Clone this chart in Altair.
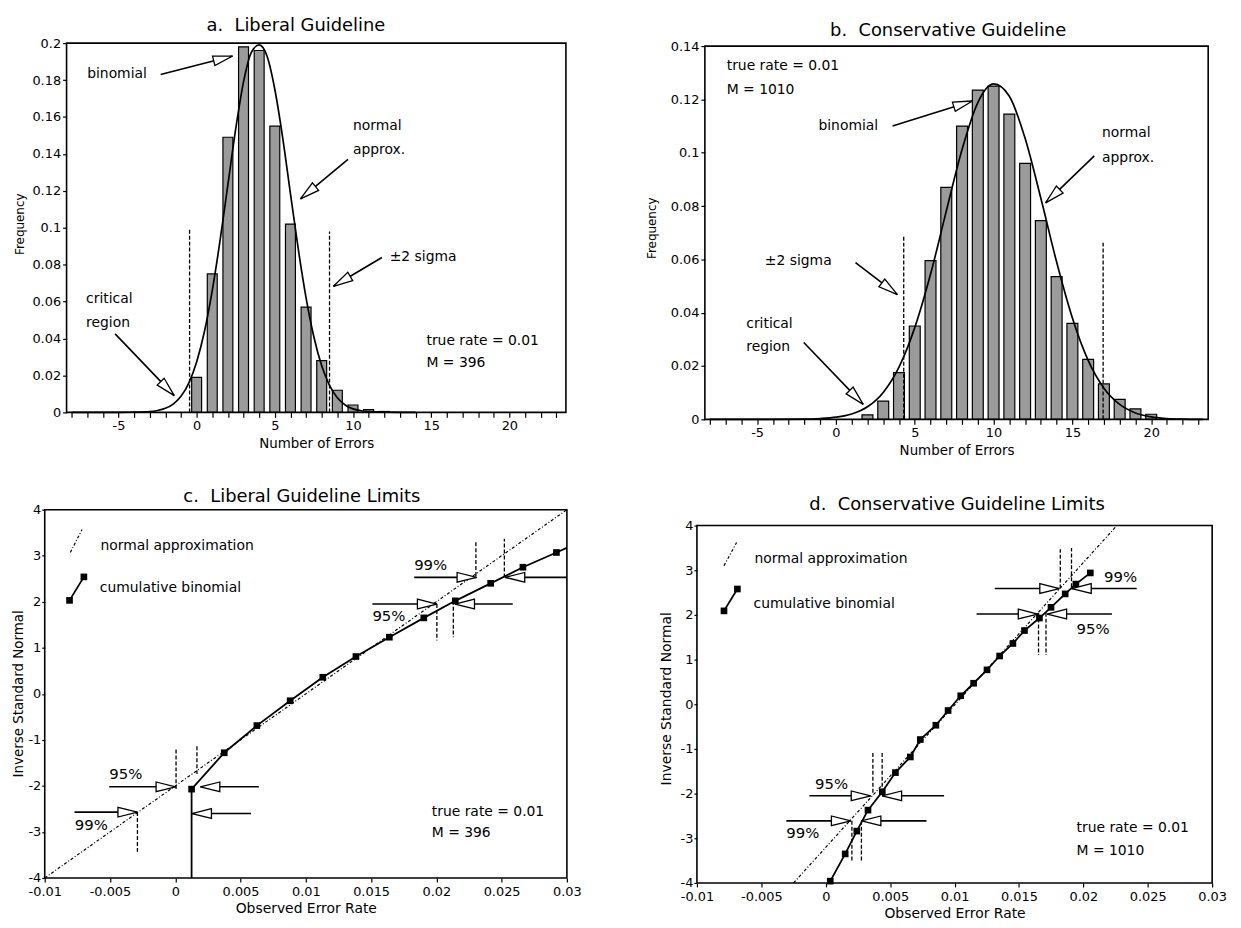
import math
import altair as alt
import pandas as pd

FONT = "DejaVu Sans"
HEAD = "M0,0L-2.8,-0.7L-2.8,0.7Z"

# ---------------- Panel a: Liberal Guideline ----------------
A_TITLE = "a.\u00a0 Liberal Guideline"
A_XDOM = [-8, 23.3]
A_YDOM = [0, 0.2]
A_XTICKS = list(range(-8, 24))
A_YTICKS = [0, 0.02, 0.04, 0.06, 0.08, 0.1, 0.12, 0.14, 0.16, 0.18, 0.2]
A_BAR_K = [0, 1, 2, 3, 4, 5, 6, 7, 8, 9, 10, 11, 12]
A_BAR_F = [0.019, 0.075, 0.149, 0.198, 0.196, 0.155, 0.102, 0.057, 0.028, 0.012, 0.004, 0.0015, 0.0005]
A_CURVE_X = [-8, -6, -5, -4, -3, -2.5, -2, -1.5, -1, -0.5, 0, 0.5, 1, 1.5, 2, 2.5, 3, 3.5, 4, 4.5,
             5, 5.5, 6, 6.5, 7, 7.5, 8, 8.5, 9, 9.5, 10, 10.5, 11, 12, 14]
A_CURVE_Y = [0, 0, 0.00003, 0.0001, 0.0004, 0.001, 0.0022, 0.0045, 0.0087, 0.0159, 0.0273, 0.0438,
             0.066, 0.0931, 0.1234, 0.1535, 0.179, 0.195, 0.199, 0.193, 0.175, 0.149, 0.1185, 0.0885,
             0.062, 0.0408, 0.0252, 0.0146, 0.0079, 0.004, 0.0019, 0.0009, 0.0004, 0.0001, 0]
A_SIGMA_X = [-0.45, 8.5]
A_SIGMA_TOP = [0.1, 0.098]
A_ARROW_X1 = [-2.3, 9.68, -5.21, 11.85]
A_ARROW_Y1 = [0.183, 0.137, 0.0425, 0.0839]
A_ARROW_X2 = [2.3, 6.64, -1.43, 8.75]
A_ARROW_Y2 = [0.193, 0.1156, 0.0091, 0.0683]
A_TEXT_X = [-7.0, 10.0, 10.0, -7.07, -7.07, 12.35, 14.7, 14.7]
A_TEXT_Y = [0.183, 0.155, 0.142, 0.0613, 0.0484, 0.0844, 0.0387, 0.0269]
A_TEXT = ["binomial", "normal", "approx.", "critical", "region", "\u00b12 sigma", "true rate = 0.01", "M = 396"]

# ---------------- Panel b: Conservative Guideline ----------------
B_TITLE = "b.\u00a0 Conservative Guideline"
B_XDOM = [-8, 23.3]
B_YDOM = [0, 0.14]
B_XTICKS = list(range(-8, 24))
B_YTICKS = [0, 0.02, 0.04, 0.06, 0.08, 0.1, 0.12, 0.14]
B_BAR_K = [2, 3, 4, 5, 6, 7, 8, 9, 10, 11, 12, 13, 14, 15, 16, 17, 18, 19, 20]
B_BAR_F = [0.0017, 0.0068, 0.0175, 0.035, 0.0595, 0.087, 0.110, 0.1235, 0.125, 0.1145, 0.096,
           0.0745, 0.0535, 0.036, 0.0225, 0.0133, 0.0075, 0.0039, 0.0019]
B_CURVE_X = [-8, -4, -2, -1, 0, 1, 2, 3, 4, 5, 6, 7, 8, 9, 10, 11, 12, 13, 14, 15, 16, 17, 18, 19,
             20, 21, 22, 23.3]
B_CURVE_Y = [0, 0.00001, 0.00007, 0.0003, 0.0008, 0.002, 0.0047, 0.0101, 0.0196, 0.0344, 0.0544,
             0.0781, 0.1012, 0.1188, 0.1258, 0.1212, 0.1054, 0.0829, 0.059, 0.038, 0.0221, 0.0117,
             0.0056, 0.0024, 0.0009, 0.0003, 0.0001, 0]
B_SIGMA_X = [4.3, 16.95]
B_SIGMA_TOP = [0.069, 0.067]
B_ARROW_X1 = [3.59, 16.39, 1.24, -2.04]
B_ARROW_Y1 = [0.110, 0.0988, 0.0588, 0.0288]
B_ARROW_X2 = [8.66, 13.3, 3.9, 1.73]
B_ARROW_Y2 = [0.1194, 0.0812, 0.0468, 0.0056]
B_TEXT_X = [-6.93, -6.93, -1.11, 16.88, 16.88, -4.51, -5.69, -5.69]
B_TEXT_Y = [0.1325, 0.1235, 0.110, 0.1074, 0.0981, 0.0595, 0.0356, 0.027]
B_TEXT = ["true rate = 0.01", "M = 1010", "binomial", "normal", "approx.", "\u00b12 sigma", "critical", "region"]

# ---------------- Panel c: Liberal Guideline Limits ----------------
C_TITLE = "c.\u00a0 Liberal Guideline Limits"
C_XDOM = [-0.01, 0.03]
C_YDOM = [-4, 4]
C_XTICKS = [-0.01, -0.005, 0, 0.005, 0.01, 0.015, 0.02, 0.025, 0.03]
C_YTICKS = [-4, -3, -2, -1, 0, 1, 2, 3, 4]
C_NORM_X = [-0.01, 0.03]
C_NORM_Y = [-4, 4]
C_LINE_X = [0.00125, 0.00125, 0.00375, 0.00625, 0.0088, 0.0113, 0.01384, 0.0164, 0.01904, 0.02145,
            0.02416, 0.02663, 0.0292, 0.0316]
C_LINE_Y = [-4, -2.07, -1.28, -0.69, -0.15, 0.36, 0.81, 1.23, 1.65, 2.02, 2.40, 2.75, 3.07, 3.37]
C_SQ_X = [0.00125, 0.00375, 0.00625, 0.0088, 0.0113, 0.01384, 0.0164, 0.01904, 0.02145, 0.02416,
          0.02663, 0.0292]
C_SQ_Y = [-2.07, -1.28, -0.69, -0.15, 0.36, 0.81, 1.23, 1.65, 2.02, 2.40, 2.75, 3.07]
C_DASH_X = [0.02303, 0.02521, 0.02004, 0.0213, 0.00006, 0.00166, -0.0029]
C_DASH_Y1 = [2.56, 2.53, 1.95, 2.02, -1.21, -1.14, -2.57]
C_DASH_Y2 = [3.32, 3.37, 1.16, 1.23, -2.07, -1.75, -3.47]
C_ARROW_X1 = [0.0183, 0.03, 0.0151, 0.02585, -0.00506, 0.0064, -0.00772, 0.0058]
C_ARROW_Y1 = [2.53, 2.53, 1.95, 1.95, -2.02, -2.02, -2.57, -2.6]
C_ARROW_X2 = [0.02308, 0.02528, 0.02004, 0.02143, 0.00002, 0.00192, -0.0029, 0.00128]
C_ARROW_Y2 = [2.53, 2.53, 1.95, 1.95, -2.02, -2.02, -2.57, -2.6]
C_PCT_X = [0.0183, 0.0151, -0.00506, -0.0077]
C_PCT_Y = [2.80, 1.69, -1.75, -2.84]
C_PCT = ["99%", "95%", "95%", "99%"]
C_TEXT_X = [-0.00573, -0.00578, 0.01965, 0.01965]
C_TEXT_Y = [3.21, 2.29, -2.56, -3.02]
C_TEXT = ["normal approximation", "cumulative binomial", "true rate = 0.01", "M = 396"]
C_LEG_NORM_X = [-0.00804, -0.00714]
C_LEG_NORM_Y = [3.07, 3.57]
C_LEG_BIN_X = [-0.0081, -0.007]
C_LEG_BIN_Y = [2.03, 2.54]

# ---------------- Panel d: Conservative Guideline Limits ----------------
D_TITLE = "d.\u00a0 Conservative Guideline Limits"
D_XDOM = [-0.01, 0.03]
D_YDOM = [-4, 4]
D_XTICKS = [-0.01, -0.005, 0, 0.005, 0.01, 0.015, 0.02, 0.025, 0.03]
D_YTICKS = [-4, -3, -2, -1, 0, 1, 2, 3, 4]
D_NORM_X = [-0.0025, 0.0226]
D_NORM_Y = [-4, 4]
D_SQ_X = [0.00035, 0.00151, 0.00241, 0.00328, 0.00439, 0.00541, 0.00657, 0.00734, 0.00855, 0.0095,
          0.01048, 0.01148, 0.01252, 0.0135, 0.01453, 0.01543, 0.01659, 0.01749, 0.01859, 0.01942,
          0.02054]
D_SQ_Y = [-3.96, -3.35, -2.84, -2.37, -1.96, -1.53, -1.18, -0.79, -0.47, -0.14, 0.19, 0.47, 0.77,
          1.08, 1.36, 1.65, 1.93, 2.17, 2.47, 2.69, 2.94]
D_DASH_X = [0.01821, 0.01908, 0.01652, 0.0171, 0.00366, 0.00438, 0.00203, 0.00277]
D_DASH_Y1 = [2.59, 2.62, 2.05, 2.05, -1.09, -1.09, -2.61, -2.61]
D_DASH_Y2 = [3.47, 3.5, 1.1, 1.1, -2.02, -2.02, -3.53, -3.53]
D_ARROW_X1 = [0.01312, 0.02414, 0.01171, 0.02222, -0.00127, 0.00919, -0.00306, 0.00782]
D_ARROW_Y1 = [2.59, 2.59, 2.02, 2.02, -2.05, -2.05, -2.61, -2.61]
D_ARROW_X2 = [0.01813, 0.0191, 0.01646, 0.01719, 0.00349, 0.00438, 0.00195, 0.00277]
D_ARROW_Y2 = [2.59, 2.59, 2.02, 2.02, -2.05, -2.05, -2.61, -2.61]
D_PCT_X = [0.0216, 0.01947, -0.00083, -0.00306]
D_PCT_Y = [2.84, 1.69, -1.79, -2.89]
D_PCT = ["99%", "95%", "95%", "99%"]
D_TEXT_X = [-0.00554, -0.0056, 0.01947, 0.01947]
D_TEXT_Y = [3.25, 2.25, -2.78, -3.28]
D_TEXT = ["normal approximation", "cumulative binomial", "true rate = 0.01", "M = 1010"]
D_LEG_NORM_X = [-0.0079, -0.00692]
D_LEG_NORM_Y = [3.10, 3.62]
D_LEG_BIN_X = [-0.0079, -0.00686]
D_LEG_BIN_Y = [2.09, 2.58]


# ---------------- layout (pixels, relative to each panel's group origin) ----------------
# gw, gh: group size; plot: (left, top, right, bottom) of the plot frame; box: layout extent
GEOM = {
    "a": dict(gw=503, gh=372, plot=(0, 0, 503, 372), box=(-59, -32, 504, 422),
              title=(231, -12), ytitle=(-40, 182), yoff=0, ytfs=12),
    "b": dict(gw=507, gh=379, plot=(0, 3, 507, 379), box=(-60, -32, 508, 422),
              title=(245, -7), ytitle=(-47, 186), yoff=0, ytfs=12),
    "c": dict(gw=504, gh=371, plot=(-22, 0, 504, 371), box=(-59, -28, 519, 412),
              title=(237, -8), ytitle=(-19, 185), yoff=22, ytfs=13.5),
    "d": dict(gw=519, gh=376, plot=(0, 16, 519, 376), box=(-42, -28, 540, 412),
              title=(262, 0), ytitle=(-24, 190), yoff=0, ytfs=14),
}


def make_enc(g, xdom, ydom, xaxis, yaxis):
    l, t, r, b = g["plot"]
    xs = alt.Scale(domain=xdom, range=[l, r], nice=False, zero=False)
    ys = alt.Scale(domain=ydom, range=[b, t], nice=False, zero=False)

    def X(f):
        return alt.X(f, type="quantitative", scale=xs, axis=xaxis)

    def Y(f):
        return alt.Y(f, type="quantitative", scale=ys, axis=yaxis)
    return X, Y


def one_row():
    return pd.DataFrame({"v": [0]})


def bounds_box(box):
    x1, y1, x2, y2 = box
    return alt.Chart(one_row()).mark_rule(color="white", strokeOpacity=0).encode(
        x=alt.value(x1), x2=alt.value(x2), y=alt.value(y1), y2=alt.value(y2))


def frame(plot):
    x1, y1, x2, y2 = plot
    return alt.Chart(one_row()).mark_rect(filled=False, stroke="black", strokeWidth=1.6).encode(
        x=alt.value(x1), x2=alt.value(x2), y=alt.value(y1), y2=alt.value(y2))


def title_mark(text, xy):
    return alt.Chart(pd.DataFrame({"t": [text]})).mark_text(
        align="center", baseline="alphabetic", font=FONT, fontSize=18, color="black").encode(
        x=alt.value(xy[0]), y=alt.value(xy[1]), text="t:N")


def text_layer(xv, yv, labels, X, Y, size=14):
    df = pd.DataFrame({"x": xv, "y": yv, "t": labels})
    return alt.Chart(df).mark_text(align="left", baseline="middle", font=FONT,
                                   fontSize=size, color="black").encode(
        x=X("x"), y=Y("y"), text="t:N")


def arrow_layers(x1, y1, x2, y2, X, Y, g, xdom, ydom):
    l, t, r, b = g["plot"]
    sx = (r - l) / (xdom[1] - xdom[0])
    sy = (b - t) / (ydom[1] - ydom[0])
    ang = [math.degrees(math.atan2(-(q2 - q1) * sy, (p2 - p1) * sx)) % 360
           for p1, q1, p2, q2 in zip(x1, y1, x2, y2)]
    df = pd.DataFrame({"x1": x1, "y1": y1, "x2": x2, "y2": y2, "ang": ang})
    shaft = alt.Chart(df).mark_rule(color="black", strokeWidth=1.6).encode(
        x=X("x1"), y=Y("y1"), x2="x2", y2="y2")
    head = alt.Chart(df).mark_point(shape=HEAD, filled=True, fill="white", stroke="black",
                                    strokeWidth=1.3, size=196, opacity=1).encode(
        x=X("x2"), y=Y("y2"), angle=alt.Angle("ang:Q", scale=None))
    return [shaft, head]


def vdash_layer(xv, y1, y2, X, Y):
    df = pd.DataFrame({"x": xv, "y1": y1, "y2": y2})
    return alt.Chart(df).mark_rule(color="black", strokeWidth=1.3, strokeDash=[4, 2]).encode(
        x=X("x"), y=Y("y1"), y2="y2")


def line_layer(xv, yv, X, Y, width=1.6, dash=None, interp="linear", clip=False):
    df = pd.DataFrame({"x": xv, "y": yv, "i": list(range(len(xv)))})
    kw = dict(color="black", strokeWidth=width, interpolate=interp, clip=clip)
    if dash is not None:
        kw["strokeDash"] = dash
    return alt.Chart(df).mark_line(**kw).encode(x=X("x"), y=Y("y"), order="i:Q")


def square_layer(xv, yv, X, Y):
    df = pd.DataFrame({"x": xv, "y": yv})
    return alt.Chart(df).mark_point(shape="square", filled=True, color="black", size=45,
                                    opacity=1).encode(x=X("x"), y=Y("y"))


LABEL_INT = "datum.value % 5 == 0 ? (datum.value < 0 ? '-' : '') + abs(datum.value) : ''"
LABEL_NUM = "(datum.value < 0 ? '-' : '') + format(abs(datum.value), '~g')"


def hist_panel(g, title, xdom, ydom, xticks, yticks, bar_k, bar_f, bar_w, cx, cy,
               sig_x, sig_top, ax1, ay1, ax2, ay2, tx, ty, tt):
    xaxis = alt.Axis(values=xticks, labelExpr=LABEL_INT, title="Number of Errors",
                     tickSize=5, labelPadding=2, titlePadding=4, labelFontSize=13,
                     titleFontSize=13.5, labelFlush=False, labelOverlap=False)
    yaxis = alt.Axis(values=yticks, labelExpr="format(datum.value, '~g')", title="Frequency",
                     tickSize=4, labelPadding=2, labelFontSize=13, titleFontSize=g["ytfs"],
                     titleX=g["ytitle"][0], titleY=g["ytitle"][1], labelOverlap=False,
                     offset=g["yoff"])
    X, Y = make_enc(g, xdom, ydom, xaxis, yaxis)
    bars = alt.Chart(pd.DataFrame({"k": bar_k, "f": bar_f})).mark_bar(
        size=bar_w, color="#9b9b9b", stroke="black", strokeWidth=1.2).encode(x=X("k"), y=Y("f"))
    curve = line_layer(cx, cy, X, Y, width=1.7, interp="monotone")
    sig = vdash_layer(sig_x, [0] * len(sig_x), sig_top, X, Y)
    layers = [bounds_box(g["box"]), bars, curve, sig, frame(g["plot"])]
    layers += arrow_layers(ax1, ay1, ax2, ay2, X, Y, g, xdom, ydom)
    layers.append(text_layer(tx, ty, tt, X, Y, size=14))
    layers.append(title_mark(title, g["title"]))
    return alt.layer(*layers).properties(width=g["gw"], height=g["gh"])


def limits_panel(g, title, xdom, ydom, xticks, yticks, nx, ny, lx, ly, sqx, sqy,
                 dx, dy1, dy2, ax1, ay1, ax2, ay2, px, py, pt, tx, ty, tt,
                 lnx, lny, lbx, lby, clip_line):
    xaxis = alt.Axis(values=xticks, labelExpr=LABEL_NUM, title="Observed Error Rate",
                     tickSize=4, labelPadding=4, titlePadding=3, labelFontSize=13,
                     titleFontSize=14, labelFlush=False, labelOverlap=False)
    yaxis = alt.Axis(values=yticks, labelExpr=LABEL_NUM, title="Inverse Standard Normal",
                     tickSize=3, labelPadding=1, labelFontSize=13, titleFontSize=g["ytfs"],
                     titleX=g["ytitle"][0], titleY=g["ytitle"][1], labelOverlap=False,
                     offset=g["yoff"])
    X, Y = make_enc(g, xdom, ydom, xaxis, yaxis)
    layers = [bounds_box(g["box"]), frame(g["plot"])]
    layers.append(line_layer(nx, ny, X, Y, width=1.2, dash=[3, 2, 1, 2]))
    layers.append(line_layer(lx, ly, X, Y, width=1.8, clip=clip_line))
    layers.append(square_layer(sqx, sqy, X, Y))
    layers.append(vdash_layer(dx, dy1, dy2, X, Y))
    layers += arrow_layers(ax1, ay1, ax2, ay2, X, Y, g, xdom, ydom)
    layers.append(text_layer(px, py, pt, X, Y, size=15))
    layers.append(text_layer(tx, ty, tt, X, Y, size=14))
    layers.append(line_layer(lnx, lny, X, Y, width=1.2, dash=[3, 2, 1, 2]))
    layers.append(line_layer(lbx, lby, X, Y, width=1.8))
    layers.append(square_layer(lbx, lby, X, Y))
    layers.append(title_mark(title, g["title"]))
    return alt.layer(*layers).properties(width=g["gw"], height=g["gh"])


pa = hist_panel(GEOM["a"], A_TITLE, A_XDOM, A_YDOM, A_XTICKS, A_YTICKS, A_BAR_K, A_BAR_F, 10,
                A_CURVE_X, A_CURVE_Y, A_SIGMA_X, A_SIGMA_TOP,
                A_ARROW_X1, A_ARROW_Y1, A_ARROW_X2, A_ARROW_Y2, A_TEXT_X, A_TEXT_Y, A_TEXT)
pb = hist_panel(GEOM["b"], B_TITLE, B_XDOM, B_YDOM, B_XTICKS, B_YTICKS, B_BAR_K, B_BAR_F, 11,
                B_CURVE_X, B_CURVE_Y, B_SIGMA_X, B_SIGMA_TOP,
                B_ARROW_X1, B_ARROW_Y1, B_ARROW_X2, B_ARROW_Y2, B_TEXT_X, B_TEXT_Y, B_TEXT)
pc = limits_panel(GEOM["c"], C_TITLE, C_XDOM, C_YDOM, C_XTICKS, C_YTICKS, C_NORM_X, C_NORM_Y,
                  C_LINE_X, C_LINE_Y, C_SQ_X, C_SQ_Y, C_DASH_X, C_DASH_Y1, C_DASH_Y2,
                  C_ARROW_X1, C_ARROW_Y1, C_ARROW_X2, C_ARROW_Y2,
                  C_PCT_X, C_PCT_Y, C_PCT, C_TEXT_X, C_TEXT_Y, C_TEXT,
                  C_LEG_NORM_X, C_LEG_NORM_Y, C_LEG_BIN_X, C_LEG_BIN_Y, True)
pd_ = limits_panel(GEOM["d"], D_TITLE, D_XDOM, D_YDOM, D_XTICKS, D_YTICKS, D_NORM_X, D_NORM_Y,
                   D_SQ_X, D_SQ_Y, D_SQ_X, D_SQ_Y, D_DASH_X, D_DASH_Y1, D_DASH_Y2,
                   D_ARROW_X1, D_ARROW_Y1, D_ARROW_X2, D_ARROW_Y2,
                   D_PCT_X, D_PCT_Y, D_PCT, D_TEXT_X, D_TEXT_Y, D_TEXT,
                   D_LEG_NORM_X, D_LEG_NORM_Y, D_LEG_BIN_X, D_LEG_BIN_Y, False)

top = alt.hconcat(pa, pb, spacing=79)
bottom = alt.hconcat(pc, pd_, spacing=67)
chart = alt.vconcat(top, bottom, spacing=20).properties(
    padding=0, background="white"
).configure_view(
    strokeWidth=0
).configure_axis(
    domain=False, tickColor="black", tickWidth=1.2,
    labelColor="black", titleColor="black", labelFont=FONT, titleFont=FONT,
    titleFontWeight="normal", grid=False
)

chart.save("out.html", embed_options={"renderer": "svg", "actions": False})
